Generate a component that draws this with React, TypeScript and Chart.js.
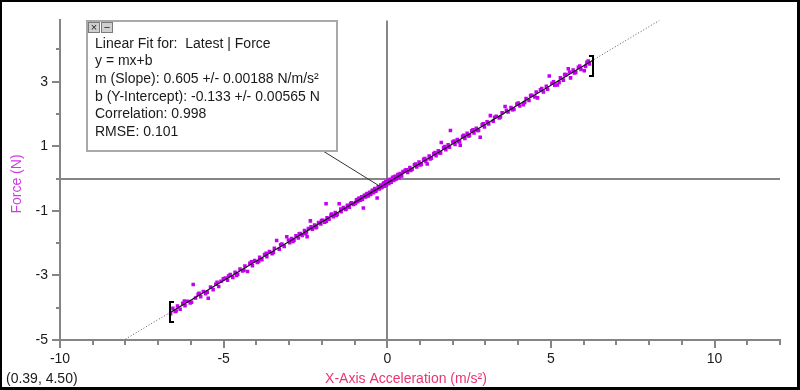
import React, { useEffect, useRef } from "react";
import { Chart, registerables } from "chart.js";
Chart.register(...registerables);

// ---- data ----
const accelX = [
  -6.62, -6.55, -6.48, -6.41, -6.33, -6.25, -6.18, -6.10, -6.02, -5.93, -5.86, -5.78, -5.70, -5.62, -5.55, -5.47, -5.40, -5.32, -5.24, -5.15, -5.08, -5.01,
  -4.95, -4.88, -4.80, -4.72, -4.65, -4.57, -4.50, -4.42, -4.35, -4.27, -4.20, -4.12, -4.05, -3.97, -3.90, -3.83, -3.75, -3.68, -3.60, -3.52, -3.45, -3.38, -3.30, -3.22, -3.15, -3.07,
  -2.98, -2.92, -2.85, -2.79, -2.72, -2.66, -2.60, -2.53, -2.47, -2.45, -2.41, -2.35, -2.29, -2.22, -2.16, -2.10, -2.03, -1.97, -1.91, -1.87, -1.84, -1.78, -1.72, -1.65, -1.59, -1.53, -1.47, -1.41, -1.34, -1.28, -1.22, -1.16, -1.09, -1.03,
  -0.98, -0.94, -0.90, -0.86, -0.82, -0.78, -0.73, -0.70, -0.66, -0.62, -0.58, -0.54, -0.50, -0.46, -0.42, -0.38, -0.34, -0.31, -0.28, -0.24, -0.20, -0.16, -0.12, -0.09, -0.05, -0.02, 0.02, 0.05, 0.09, 0.12, 0.16, 0.20, 0.24, 0.28, 0.32, 0.36, 0.40, 0.44, 0.48,
  0.55, 0.62, 0.69, 0.76, 0.83, 0.90, 0.97, 1.04, 1.11, 1.18, 1.22, 1.28, 1.35, 1.42, 1.49, 1.56, 1.63, 1.65, 1.72, 1.79, 1.86, 1.93, 2.00, 2.07, 2.14, 2.21, 2.23, 2.30, 2.37, 2.44, 2.51, 2.58, 2.65, 2.72, 2.79, 2.84, 2.90, 2.97,
  3.05, 3.15, 3.24, 3.33, 3.42, 3.51, 3.60, 3.69, 3.78, 3.87, 3.96, 4.05, 4.16, 4.24, 4.33, 4.42, 4.51, 4.59, 4.68, 4.77, 4.86, 4.95, 5.03, 5.12, 5.20, 5.29, 5.38, 5.46, 5.53, 5.60, 5.68, 5.76, 5.84, 5.92, 6.02, 6.10, 6.18,
  -6.45, -6.20, -5.98, -5.75, -5.50, -5.20, -4.85, -4.60, -4.38, -4.15, -3.93, -3.70, -3.48, -3.26, -3.02, -2.88, -2.69, -2.50, -2.33, -2.18,
  -2.01, -1.86, -1.70, -1.56, -1.42, -1.26, -1.12, -0.96, -0.88, -0.76, -0.64, -0.52, -0.44, -0.36, -0.26, -0.18, -0.10, -0.04, 0.04, 0.10,
  0.18, 0.26, 0.34, 0.42, 0.58, 0.72, 0.86, 1.00, 1.15, 1.31, 1.46, 1.60, 1.76, 1.90, 2.04, 2.18, 2.34, 2.48, 2.62, 2.76,
  2.93, 3.10, 3.28, 3.46, 3.64, 3.82, 4.00, 4.20, 4.38, 4.55, 4.72, 4.90, 5.08, 5.25, 5.42, 5.57, 5.72, 5.88, 6.06, 6.14,
];
const forceY = [
  -4.19, -4.02, -4.12, -3.95, -4.05, -3.86, -3.94, -3.80, -3.85, -3.28, -3.70, -3.58, -3.66, -3.50, -3.57, -3.71, -3.36, -3.44, -3.27, -3.34, -3.18, -3.10,
  -3.08, -3.15, -2.97, -3.06, -2.90, -2.96, -2.80, -2.86, -2.71, -2.88, -2.62, -2.70, -2.54, -2.60, -2.44, -2.51, -2.35, -2.42, -2.26, -2.33, -2.16, -1.92, -2.19, -2.03, -2.10, -1.80,
  -1.99, -1.86, -1.91, -1.77, -1.84, -1.70, -1.76, -1.61, -1.68, -1.80, -1.55, -1.31, -1.57, -1.44, -1.50, -1.36, -1.41, -1.29, -1.35, -0.78, -1.21, -1.26, -1.13, -1.18, -1.05, -1.11, -0.78, -1.03, -0.90, -0.96, -0.83, -0.89, -0.75, -0.80,
  -0.77, -0.66, -0.71, -0.60, -0.67, -0.56, -0.91, -0.52, -0.57, -0.46, -0.54, -0.42, -0.48, -0.37, -0.44, -0.31, -0.38, -0.60, -0.26, -0.32, -0.20, -0.27, -0.16, -0.24, -0.10, -0.19, -0.05, -0.15, -0.02, -0.11, 0.02, -0.06, 0.07, 0.00, 0.11, 0.03, 0.16, 0.08, 0.22,
  0.26, 0.19, 0.34, 0.29, 0.43, 0.36, 0.51, 0.44, 0.60, 0.53, 0.45, 0.70, 0.63, 0.78, 0.71, 0.86, 0.79, 1.12, 0.96, 0.89, 1.05, 1.49, 1.13, 1.06, 1.21, 1.14, 1.03, 1.31, 1.24, 1.40, 1.33, 1.48, 1.41, 1.56, 1.49, 1.28, 1.67, 1.60,
  1.76, 1.95, 1.78, 1.93, 1.88, 2.04, 2.23, 2.06, 2.20, 2.14, 2.31, 2.25, 2.29, 2.48, 2.42, 2.58, 2.53, 2.50, 2.75, 2.68, 2.86, 3.18, 2.95, 2.89, 2.90, 3.12, 3.05, 3.22, 3.40, 3.12, 3.36, 3.29, 3.45, 3.38, 3.34, 3.60, 3.55,
  -4.10, -3.79, -3.83, -3.55, -3.52, -3.21, -3.02, -3.00, -2.84, -2.58, -2.57, -2.31, -2.29, -2.05, -1.90, -1.95, -1.71, -1.71, -1.49, -1.52,
  -1.30, -1.32, -1.10, -1.14, -0.94, -0.95, -0.77, -0.74, -0.63, -0.64, -0.49, -0.49, -0.36, -0.39, -0.25, -0.28, -0.13, -0.20, -0.06, -0.11,
  0.05, -0.02, 0.13, 0.09, 0.27, 0.25, 0.45, 0.42, 0.62, 0.61, 0.81, 0.79, 0.99, 0.97, 1.16, 1.14, 1.34, 1.32, 1.51, 1.49,
  1.70, 1.69, 1.90, 1.91, 2.12, 2.13, 2.34, 2.36, 2.57, 2.68, 2.79, 2.77, 3.00, 2.98, 3.22, 3.30, 3.27, 3.49, 3.47, 3.64,
];

const fitSlope = 0.605;
const fitIntercept = -0.133;
const fitRange = [-6.62, 6.27];
const extRange = [-8, 8.4];
const bracketX = [-6.62, 6.27];
const bracketY = [-4.12, 3.48];
const calloutAnchorX = -0.2;

const xMin = -10;
const xMax = 12;
const yMin = -5;
const yMax = 4.9;
const xTicks = [-10, -9, -8, -7, -6, -5, -4, -3, -2, -1, 0, 1, 2, 3, 4, 5, 6, 7, 8, 9, 10, 11, 12];
const yTicks = [-5, -4, -3, -2, -1, 0, 1, 2, 3, 4];
const xLabelTicks = [-10, -5, 0, 5, 10];
const yLabelTicks = [-5, -3, -1, 1, 3];

const xTitle = "X-Axis Acceleration (m/s²)";
const yTitle = "Force (N)";
const cursorText = "(0.39, 4.50)";
const infoLines = [
  "Linear Fit for:  Latest | Force",
  "y = mx+b",
  "m (Slope): 0.605 +/- 0.00188 N/m/s²",
  "b (Y-Intercept): -0.133 +/- 0.00565 N",
  "Correlation: 0.998",
  "RMSE: 0.101",
];

const FONT = '"Liberation Sans", Arial, sans-serif';
const AXIS_GRAY = "#858585";
const POINT_COLOR = "#c400f0";
const fit = (x: number) => fitSlope * x + fitIntercept;

const overlayPlugin = {
  id: "overlay",
  afterDraw(chart: any) {
    const ctx = chart.ctx as CanvasRenderingContext2D;
    const xs = chart.scales.x;
    const ys = chart.scales.y;
    const area = chart.chartArea;
    ctx.save();

    // tick marks
    ctx.strokeStyle = AXIS_GRAY;
    ctx.lineWidth = 2;
    ctx.beginPath();
    xTicks.forEach((v) => {
      const px = Math.round(xs.getPixelForValue(v));
      const len = xLabelTicks.includes(v) ? 8 : 5;
      ctx.moveTo(px, area.bottom);
      ctx.lineTo(px, area.bottom + len);
    });
    yTicks.forEach((v) => {
      const py = Math.round(ys.getPixelForValue(v));
      const len = yLabelTicks.includes(v) ? 8 : 4;
      ctx.moveTo(area.left - len, py);
      ctx.lineTo(area.left, py);
    });
    ctx.stroke();

    // brackets
    ctx.strokeStyle = "#000";
    ctx.lineWidth = 2;
    bracketX.forEach((bx, i) => {
      const px = Math.round(xs.getPixelForValue(bx));
      const py = Math.round(ys.getPixelForValue(bracketY[i]));
      const dir = i === 0 ? 1 : -1;
      const vx = px - dir * 1;
      ctx.beginPath();
      ctx.moveTo(vx + dir * 4, py - 10);
      ctx.lineTo(vx, py - 10);
      ctx.lineTo(vx, py + 10);
      ctx.lineTo(vx + dir * 4, py + 10);
      ctx.stroke();
    });

    // callout connector
    const ax = xs.getPixelForValue(calloutAnchorX);
    const ay = ys.getPixelForValue(fit(calloutAnchorX));
    ctx.strokeStyle = "#333";
    ctx.lineWidth = 1;
    ctx.beginPath();
    ctx.moveTo(323, 151);
    ctx.lineTo(ax, ay);
    ctx.stroke();

    // info box
    ctx.fillStyle = "#fff";
    ctx.fillRect(87, 21, 250, 130);
    ctx.strokeStyle = "#a9a9a9";
    ctx.lineWidth = 2;
    ctx.strokeRect(87, 21, 250, 130);
    // buttons
    ctx.fillStyle = "#cfcfcf";
    ctx.fillRect(88, 22, 12, 11);
    ctx.fillRect(101, 22, 12, 11);
    ctx.strokeStyle = "#7a7a7a";
    ctx.lineWidth = 1;
    ctx.strokeRect(88.5, 22.5, 11, 10);
    ctx.strokeRect(101.5, 22.5, 11, 10);
    ctx.fillStyle = "#222";
    ctx.font = `11px ${FONT}`;
    ctx.textAlign = "center";
    ctx.textBaseline = "middle";
    ctx.fillText("×", 94, 27.5);
    ctx.fillText("−", 107, 27.5);

    ctx.fillStyle = "#1a1a1a";
    ctx.font = `14px ${FONT}`;
    ctx.textAlign = "left";
    ctx.textBaseline = "middle";
    infoLines.forEach((line, i) => {
      ctx.fillText(line, 95, 44 + i * 17.6);
    });

    // axis titles
    ctx.fillStyle = "#e8366e";
    ctx.textAlign = "center";
    ctx.fillText(xTitle, 406, 379);
    ctx.save();
    ctx.translate(17, 184);
    ctx.rotate(-Math.PI / 2);
    ctx.fillStyle = "#d03ae6";
    ctx.fillText(yTitle, 0, 0);
    ctx.restore();

    // cursor readout
    ctx.fillStyle = "#1a1a1a";
    ctx.textAlign = "left";
    ctx.fillText(cursorText, 6, 379);

    // outer frame
    ctx.fillStyle = "#000";
    ctx.fillRect(0, 0, 800, 2);
    ctx.fillRect(0, 0, 2, 390);
    ctx.fillRect(797, 0, 3, 390);
    ctx.fillRect(0, 387, 800, 3);

    ctx.restore();
  },
};

export default function App() {
  const ref = useRef<HTMLCanvasElement | null>(null);
  useEffect(() => {
    if (!ref.current) return;
    const points = accelX.map((x, i) => ({ x, y: forceY[i] }));
    const chart = new Chart(ref.current, {
      type: "scatter",
      data: {
        datasets: [
          {
            type: "line",
            data: fitRange.map((x) => ({ x, y: fit(x) })),
            borderColor: "#111",
            borderWidth: 1.2,
            pointRadius: 0,
            fill: false,
          } as any,
          {
            type: "line",
            data: extRange.map((x) => ({ x, y: fit(x) })),
            borderColor: "#555",
            borderWidth: 1,
            borderDash: [1, 2],
            pointRadius: 0,
            fill: false,
          } as any,
          {
            data: points,
            backgroundColor: POINT_COLOR,
            borderWidth: 0,
            pointStyle: "rect",
            pointRadius: 2.5,
          },
        ],
      },
      options: {
        animation: false,
        responsive: false,
        devicePixelRatio: 1,
        layout: { padding: { left: 0, top: 18, right: 20, bottom: 0 } },
        plugins: { legend: { display: false }, tooltip: { enabled: false } },
        font: { family: FONT },
        scales: {
          x: {
            type: "linear",
            min: xMin,
            max: xMax,
            afterBuildTicks: (s: any) => {
              s.ticks = xTicks.map((v) => ({ value: v }));
            },
            afterFit: (s: any) => {
              s.height = 50;
            },
            ticks: {
              autoSkip: false,
              maxRotation: 0,
              padding: 11,
              color: "#1a1a1a",
              font: { family: FONT, size: 14 },
              callback: (v: any) => (xLabelTicks.includes(Number(v)) ? String(v) : ""),
            },
            grid: {
              drawTicks: false,
              lineWidth: 2,
              color: (c: any) => (c.tick && c.tick.value === 0 ? AXIS_GRAY : "rgba(0,0,0,0)"),
            },
            border: { display: true, color: AXIS_GRAY, width: 2 },
          },
          y: {
            type: "linear",
            min: yMin,
            max: yMax,
            afterBuildTicks: (s: any) => {
              s.ticks = yTicks.map((v) => ({ value: v }));
            },
            afterFit: (s: any) => {
              s.width = 60;
            },
            ticks: {
              autoSkip: false,
              padding: 12,
              color: "#1a1a1a",
              font: { family: FONT, size: 14 },
              callback: (v: any) => (yLabelTicks.includes(Number(v)) ? String(v) : ""),
            },
            grid: {
              drawTicks: false,
              lineWidth: 2,
              color: (c: any) => (c.tick && c.tick.value === 0 ? AXIS_GRAY : "rgba(0,0,0,0)"),
            },
            border: { display: true, color: AXIS_GRAY, width: 2 },
          },
        },
      } as any,
      plugins: [overlayPlugin],
    });
    return () => chart.destroy();
  }, []);

  return (
    <div style={{ position: "absolute", left: 0, top: 0, width: 800, height: 390, background: "#fff" }}>
      <canvas ref={ref} width={800} height={390} style={{ display: "block" }} />
    </div>
  );
}
